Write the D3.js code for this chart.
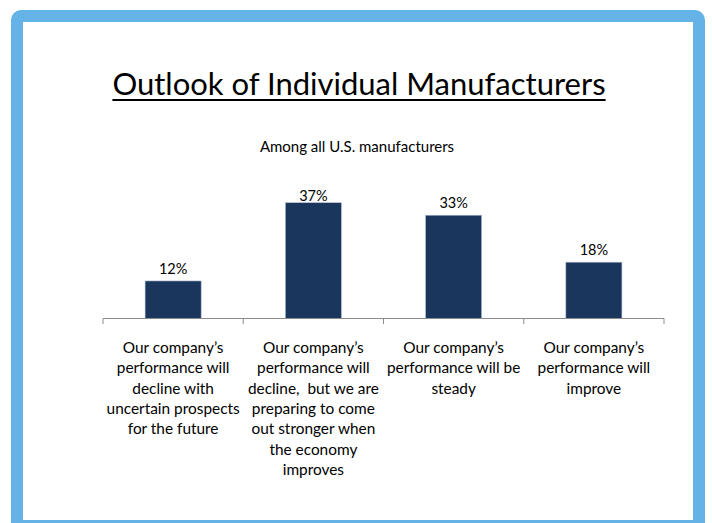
<!DOCTYPE html>
<html>
<head>
<meta charset="utf-8">
<script src="https://cdn.jsdelivr.net/npm/d3@7"></script>
<style>
  html, body { margin: 0; padding: 0; background: #fff; }
  svg { display: block; }
  text { font-family: Lato, "Open Sans", sans-serif; fill: #000; white-space: pre; }
</style>
</head>
<body>
<svg id="chart" width="712" height="523"></svg>
<script>
// Survey outcomes, share of U.S. manufacturers
const categories = [
  "Our company’s\nperformance will\ndecline with\nuncertain prospects\nfor the future",
  "Our company’s\nperformance will\ndecline,  but we are\npreparing to come\nout stronger when\nthe economy\nimproves",
  "Our company’s\nperformance will be\nsteady",
  "Our company’s\nperformance will\nimprove"
];
const values = [12, 37, 33, 18];
const valueLabels = ["12%", "37%", "33%", "18%"];
const title = "Outlook of Individual Manufacturers";
const subtitle = "Among all U.S. manufacturers";

const svg = d3.select("#chart");

// Slide frame
svg.append("rect")
  .attr("x", 17).attr("y", 16)
  .attr("width", 682).attr("height", 510)
  .attr("rx", 4)
  .attr("fill", "#fff")
  .attr("stroke", "#64b2e6")
  .attr("stroke-width", 12);

// Title with underline
const titleText = svg.append("text")
  .attr("x", 359).attr("y", 95)
  .attr("text-anchor", "middle")
  .attr("font-size", 31)
  .text(title);
const tb = titleText.node().getBBox();
svg.append("line")
  .attr("x1", tb.x).attr("x2", tb.x + tb.width)
  .attr("y1", 100).attr("y2", 100)
  .attr("stroke", "#000").attr("stroke-width", 2);

svg.append("text")
  .attr("x", 357).attr("y", 152)
  .attr("text-anchor", "middle")
  .attr("font-size", 15)
  .text(subtitle);

// Scales
const x = d3.scaleBand()
  .domain(d3.range(categories.length))
  .range([103, 664])
  .paddingInner(0.6)
  .paddingOuter(0.3);

const y = d3.scaleLinear()
  .domain([0, 40])
  .range([318.5, 193.3]);

// Bars
svg.append("g").selectAll("rect")
  .data(values)
  .join("rect")
  .attr("x", (d, i) => x(i))
  .attr("y", d => y(d))
  .attr("width", x.bandwidth())
  .attr("height", d => y(0) - y(d))
  .attr("fill", "#1a365d")
  .attr("stroke", "#b7c4d6")
  .attr("stroke-width", 0.6);

// Value labels
svg.append("g").selectAll("text")
  .data(values)
  .join("text")
  .attr("x", (d, i) => x(i) + x.bandwidth() / 2)
  .attr("y", d => Math.max(y(d) - 7, 201))
  .attr("text-anchor", "middle")
  .attr("font-size", 14.5)
  .text((d, i) => valueLabels[i]);

// Category axis: baseline with boundary ticks
const boundaries = d3.range(categories.length + 1).map(i => 103 + i * (664 - 103) / categories.length);
const axis = svg.append("g").attr("stroke", "#8c8c8c").attr("stroke-width", 1);
axis.append("line")
  .attr("x1", 103).attr("x2", 664)
  .attr("y1", 318.5).attr("y2", 318.5);
axis.selectAll("line.tick")
  .data(boundaries)
  .join("line")
  .attr("class", "tick")
  .attr("x1", d => d).attr("x2", d => d)
  .attr("y1", 318.5).attr("y2", 324);

// Category labels
const lab = svg.append("g").selectAll("text")
  .data(categories)
  .join("text")
  .attr("x", (d, i) => x(i) + x.bandwidth() / 2)
  .attr("y", 353)
  .attr("text-anchor", "middle")
  .attr("font-size", 15.4);
lab.selectAll("tspan")
  .data(d => d.split("\n"))
  .join("tspan")
  .attr("x", function () { return d3.select(this.parentNode).attr("x"); })
  .attr("dy", (d, i) => i === 0 ? 0 : 20.3)
  .text(d => d);
</script>
</body>
</html>
